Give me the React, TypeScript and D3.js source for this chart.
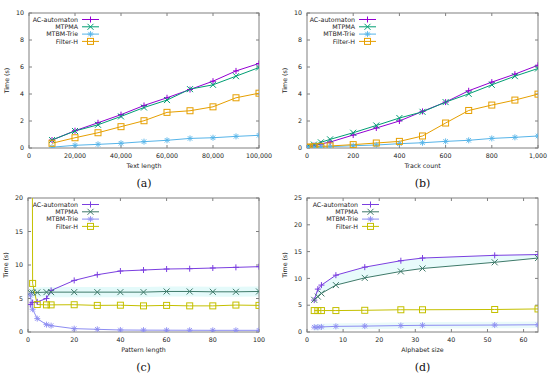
import React from "react";
import * as d3 from "d3";

const seriesNames = ["AC-automaton", "MTPMA", "MTBM-Trie", "Filter-H"];
const colorsTop = ["#9400d3", "#009e73", "#56b4e9", "#e69f00"];
const colorsBottom = ["#7b3fe0", "#3f7a6a", "#8c8cf2", "#c4c000"];
const markerTypes = ["plus", "cross", "star", "square"];

// (a) Text length
const xA = [10000, 20000, 30000, 40000, 50000, 60000, 70000, 80000, 90000, 100000];
const acA = [0.59, 1.28, 1.87, 2.47, 3.15, 3.72, 4.33, 4.95, 5.71, 6.26];
const mtpmaA = [0.59, 1.26, 1.72, 2.34, 3.0, 3.55, 4.36, 4.68, 5.32, 5.96];
const mtbmA = [0.06, 0.2, 0.27, 0.35, 0.47, 0.57, 0.71, 0.76, 0.86, 0.94];
const filterA = [0.35, 0.76, 1.13, 1.58, 2.02, 2.64, 2.76, 3.05, 3.72, 4.06];

// (b) Track count
const xB = [1, 10, 30, 60, 100, 200, 300, 400, 500, 600, 700, 800, 900, 1000];
const acB = [0.02, 0.08, 0.18, 0.3, 0.44, 0.96, 1.48, 2.0, 2.71, 3.4, 4.24, 4.88, 5.47, 6.13];
const mtpmaB = [0.05, 0.12, 0.25, 0.42, 0.64, 1.13, 1.67, 2.22, 2.68, 3.4, 4.01, 4.68, 5.32, 5.89];
const mtbmB = [0.01, 0.03, 0.05, 0.07, 0.1, 0.17, 0.22, 0.32, 0.39, 0.49, 0.57, 0.71, 0.79, 0.89];
const filterB = [0.05, 0.07, 0.09, 0.12, 0.15, 0.25, 0.37, 0.49, 0.89, 1.85, 2.78, 3.18, 3.55, 3.99];

// (c) Pattern length
const xC = [1, 2, 4, 8, 10, 20, 30, 40, 50, 60, 70, 80, 90, 100];
const acC = [4.1, 4.4, 4.5, 5.0, 6.2, 7.7, 8.55, 9.1, 9.25, 9.4, 9.45, 9.55, 9.65, 9.75];
const mtpmaC = [5.9, 5.9, 5.9, 5.95, 5.95, 5.95, 5.95, 5.95, 5.95, 6.05, 6.05, 6.0, 6.0, 6.05];
const mtbmC = [5.5, 3.4, 2.0, 1.1, 0.95, 0.5, 0.4, 0.3, 0.28, 0.27, 0.26, 0.25, 0.25, 0.25];
const filterC = [150, 7.25, 4.1, 4.05, 4.05, 4.07, 3.97, 4.0, 3.9, 3.97, 3.9, 3.9, 4.02, 3.97];

// (d) Alphabet size
const xD = [2, 3, 4, 8, 16, 26, 32, 52, 64];
const acD = [5.95, 8.0, 8.75, 10.6, 12.1, 13.3, 13.8, 14.3, 14.45];
const mtpmaD = [6.0, 6.6, 7.2, 8.75, 10.1, 11.3, 11.85, 13.0, 13.8];
const mtbmD = [0.9, 0.9, 0.95, 1.05, 1.1, 1.2, 1.25, 1.3, 1.35];
const filterD = [4.0, 4.0, 4.0, 4.0, 4.05, 4.15, 4.15, 4.2, 4.3];

const xTicksA = [0, 20000, 40000, 60000, 80000, 100000];
const yTicksA = [0, 2, 4, 6, 8, 10];
const xTicksB = [0, 200, 400, 600, 800, 1000];
const yTicksB = [0, 2, 4, 6, 8, 10];
const xTicksC = [0, 20, 40, 60, 80, 100];
const yTicksC = [0, 5, 10, 15, 20];
const xTicksD = [0, 10, 20, 30, 40, 50, 60];
const yTicksD = [0, 5, 10, 15, 20, 25];

const FONT = "DejaVu Sans, sans-serif";
const fmt = d3.format(",");

function Marker({ type, x, y, color }: { type: string; x: number; y: number; color: string }) {
  const s = 3;
  if (type === "plus")
    return <path d={`M${x - s},${y}H${x + s}M${x},${y - s}V${y + s}`} stroke={color} strokeWidth={1} fill="none" />;
  if (type === "cross")
    return <path d={`M${x - s},${y - s}L${x + s},${y + s}M${x - s},${y + s}L${x + s},${y - s}`} stroke={color} strokeWidth={1} fill="none" />;
  if (type === "star")
    return (
      <path
        d={`M${x - s},${y}H${x + s}M${x},${y - s}V${y + s}M${x - s * 0.75},${y - s * 0.75}L${x + s * 0.75},${y + s * 0.75}M${x - s * 0.75},${y + s * 0.75}L${x + s * 0.75},${y - s * 0.75}`}
        stroke={color}
        strokeWidth={0.9}
        fill="none"
      />
    );
  return <rect x={x - s} y={y - s} width={2 * s} height={2 * s} stroke={color} strokeWidth={1} fill="none" />;
}

type PanelProps = {
  id: string;
  left: number;
  right: number;
  top: number;
  bottom: number;
  xs: number[];
  ys: number[][];
  xMax: number;
  yMax: number;
  xTicks: number[];
  yTicks: number[];
  xLabel: string;
  caption: string;
  colors: string[];
  legendEnd: number;
  bands?: boolean;
};

function Panel(p: PanelProps) {
  const x = d3.scaleLinear().domain([0, p.xMax]).range([p.left, p.right]);
  const y = d3.scaleLinear().domain([0, p.yMax]).range([p.bottom, p.top]);
  const line = d3
    .line<[number, number]>()
    .x((d) => x(d[0]))
    .y((d) => y(d[1]));
  const midX = (p.left + p.right) / 2;
  const midY = (p.top + p.bottom) / 2;
  const tl = 3;
  const frame = "#808080";
  const legendY0 = p.top + 6.5;
  const legendDy = 7.3;
  const area = d3
    .area<[number, number, number]>()
    .x((d) => x(d[0]))
    .y0((d) => y(d[1]))
    .y1((d) => y(d[2]));
  return (
    <g>
      <defs>
        <clipPath id={`clip-${p.id}`}>
          <rect x={p.left} y={p.top} width={p.right - p.left} height={p.bottom - p.top} />
        </clipPath>
      </defs>
      {p.bands && p.id === "c" && (
        <path
          d={area(p.xs.map((xv, i) => [xv, p.ys[1][i] - 0.75, p.ys[1][i] + 0.75]) as any) || ""}
          fill="#e4fafa"
          clipPath={`url(#clip-${p.id})`}
        />
      )}
      {p.bands && p.id === "d" && (
        <g clipPath={`url(#clip-${p.id})`}>
          <path
            d={area(p.xs.map((xv, i) => [xv, p.ys[1][i], p.ys[0][i]]) as any) || ""}
            fill="#e8fbfb"
          />
          <path
            d={area(p.xs.map((xv, i) => [xv, p.ys[2][i] - 0.6, p.ys[2][i] + 0.6]) as any) || ""}
            fill="#eafafa"
          />
        </g>
      )}
      <rect x={p.left} y={p.top} width={p.right - p.left} height={p.bottom - p.top} fill="none" stroke={frame} strokeWidth={1} />
      {p.xTicks.map((t) => (
        <g key={`xt${t}`}>
          <line x1={x(t)} x2={x(t)} y1={p.bottom} y2={p.bottom - tl} stroke={frame} />
          <line x1={x(t)} x2={x(t)} y1={p.top} y2={p.top + tl} stroke={frame} />
          <text x={x(t)} y={p.bottom + 10} fontSize={6.3} fontFamily={FONT} textAnchor="middle" fill="#222">
            {fmt(t)}
          </text>
        </g>
      ))}
      {p.yTicks.map((t) => (
        <g key={`yt${t}`}>
          <line x1={p.left} x2={p.left + tl} y1={y(t)} y2={y(t)} stroke={frame} />
          <line x1={p.right} x2={p.right - tl} y1={y(t)} y2={y(t)} stroke={frame} />
          <text x={p.left - 5} y={y(t) + 2.2} fontSize={6.3} fontFamily={FONT} textAnchor="end" fill="#222">
            {t}
          </text>
        </g>
      ))}
      <text x={midX} y={p.bottom + 20} fontSize={6.3} fontFamily={FONT} textAnchor="middle" fill="#222">
        {p.xLabel}
      </text>
      <text
        transform={`translate(${p.left - 20},${midY}) rotate(-90)`}
        fontSize={6.3}
        fontFamily={FONT}
        textAnchor="middle"
        fill="#222"
      >
        Time (s)
      </text>
      <g clipPath={`url(#clip-${p.id})`}>
        {p.ys.map((ser, si) => (
          <path
            key={`l${si}`}
            d={line(p.xs.map((xv, i) => [xv, ser[i]] as [number, number])) || ""}
            fill="none"
            stroke={p.colors[si]}
            strokeWidth={1}
          />
        ))}
        {p.ys.map((ser, si) =>
          p.xs.map((xv, i) => (
            <Marker key={`m${si}-${i}`} type={markerTypes[si]} x={x(xv)} y={y(ser[i])} color={p.colors[si]} />
          ))
        )}
      </g>
      {seriesNames.map((n, si) => {
        const ly = legendY0 + si * legendDy;
        return (
          <g key={`lg${si}`}>
            <text x={p.legendEnd} y={ly + 2.2} fontSize={6.3} fontFamily={FONT} textAnchor="end" fill="#222">
              {n}
            </text>
            <line x1={p.legendEnd + 4} x2={p.legendEnd + 21} y1={ly} y2={ly} stroke={p.colors[si]} strokeWidth={1} />
            <Marker type={markerTypes[si]} x={p.legendEnd + 12.5} y={ly} color={p.colors[si]} />
          </g>
        );
      })}
      <text
        x={midX}
        y={p.bottom + 39}
        fontSize={11}
        fontFamily="DejaVu Serif, serif"
        textAnchor="middle"
        fill="#111"
      >
        {p.caption}
      </text>
    </g>
  );
}

export default function App() {
  return (
    <svg width={550} height={377} style={{ position: "absolute", left: 0, top: 0, background: "#fff" }}>
      <Panel
        id="a"
        left={29}
        right={259}
        top={13}
        bottom={148}
        xs={xA}
        ys={[acA, mtpmaA, mtbmA, filterA]}
        xMax={100000}
        yMax={10}
        xTicks={xTicksA}
        yTicks={yTicksA}
        xLabel="Text length"
        caption="(a)"
        colors={colorsTop}
        legendEnd={78}
      />
      <Panel
        id="b"
        left={307}
        right={538}
        top={13}
        bottom={148}
        xs={xB}
        ys={[acB, mtpmaB, mtbmB, filterB]}
        xMax={1000}
        yMax={10}
        xTicks={xTicksB}
        yTicks={yTicksB}
        xLabel="Track count"
        caption="(b)"
        colors={colorsTop}
        legendEnd={355}
      />
      <Panel
        id="c"
        left={28}
        right={259}
        top={198}
        bottom={332}
        xs={xC}
        ys={[acC, mtpmaC, mtbmC, filterC]}
        xMax={100}
        yMax={20}
        xTicks={xTicksC}
        yTicks={yTicksC}
        xLabel="Pattern length"
        caption="(c)"
        colors={colorsBottom}
        legendEnd={78}
        bands
      />
      <Panel
        id="d"
        left={307}
        right={538}
        top={198}
        bottom={332}
        xs={xD}
        ys={[acD, mtpmaD, mtbmD, filterD]}
        xMax={64}
        yMax={25}
        xTicks={xTicksD}
        yTicks={yTicksD}
        xLabel="Alphabet size"
        caption="(d)"
        colors={colorsBottom}
        legendEnd={358}
        bands
      />
    </svg>
  );
}
